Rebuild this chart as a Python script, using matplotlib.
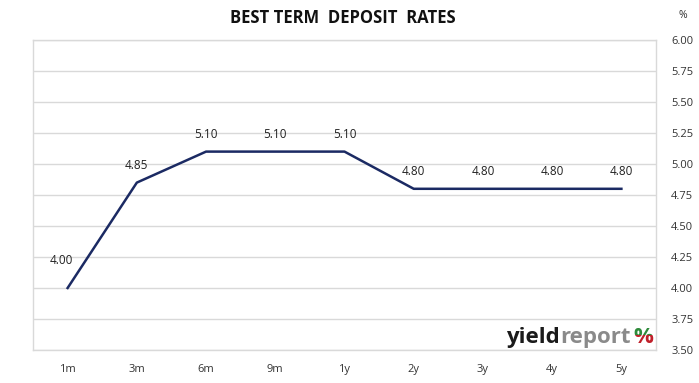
import matplotlib.pyplot as plt
import matplotlib.patches as mpatches

terms = ["1m", "3m", "6m", "9m", "1y", "2y", "3y", "4y", "5y"]
rates = [4.00, 4.85, 5.10, 5.10, 5.10, 4.80, 4.80, 4.80, 4.80]
yticks = [3.50, 3.75, 4.00, 4.25, 4.50, 4.75, 5.00, 5.25, 5.50, 5.75, 6.00]

plt.rcParams['font.family'] = ['Open Sans', 'DejaVu Sans']

fig = plt.figure(figsize=(6.99, 3.83), dpi=100)
ax = fig.add_axes([33/699, 33/383, 623/699, 310/383])

x = list(range(len(terms)))
ax.plot(x, rates, color="#1B2A63", lw=1.8, zorder=3)
for xi, r in zip(x, rates):
    off = (-4.5, 19.5) if xi == 0 else (0, 12.5)
    ax.annotate(f"{r:.2f}", (xi, r), xytext=off,
                textcoords="offset points", ha="center", va="center",
                fontsize=8.5, color="#222222")

ax.set_xlim(-0.5, len(terms) - 0.5)
ax.set_ylim(3.5, 6.0)
ax.set_xticks(x)
ax.set_xticklabels(terms, fontsize=8, color="#333333")
ax.set_yticks(yticks)
ax.set_yticklabels([f"{v:.2f}" for v in yticks], fontsize=8, color="#333333")
ax.yaxis.tick_right()
ax.tick_params(length=0, pad=11)
ax.tick_params(axis="x", pad=10)
ax.grid(axis="y", color="#D9D9D9", lw=1)
for s in ax.spines.values():
    s.set_color("#D9D9D9")
    s.set_linewidth(1)

fig.text(343/699, 1 - 18/383, "BEST TERM  DEPOSIT  RATES", ha="center", va="center",
         fontsize=12, fontweight="bold", color="#111111")
fig.text(683/699, 1 - 15/383, "%", ha="center", va="center", fontsize=7.5, color="#333333")

# logo: place pieces one after another
fig.canvas.draw()
r = fig.canvas.get_renderer()
base = 1 - 343/383
xpos = 506
t1 = fig.text(xpos/699, base, "yield", fontsize=16, fontweight="bold",
              color="#1A1A1A", va="baseline")
xpos = t1.get_window_extent(r).x1
t2 = fig.text(xpos/699, base, "report", fontsize=16, fontweight="bold",
              color="#8A8A8A", va="baseline")
xpos = t2.get_window_extent(r).x1 + 3
top = mpatches.Rectangle((xpos/699, 1 - 335/383), 30/699, 25/383, transform=fig.transFigure)
bot = mpatches.Rectangle((xpos/699, 1 - 350/383), 30/699, 15/383, transform=fig.transFigure)
p1 = fig.text(xpos/699, base, "%", fontsize=16, fontweight="bold",
              color="#2E8B3A", va="baseline")
p1.set_clip_path(top)
p2 = fig.text(xpos/699, base, "%", fontsize=16, fontweight="bold",
              color="#C0202A", va="baseline")
p2.set_clip_path(bot)

fig.savefig("out.png", dpi=100)
